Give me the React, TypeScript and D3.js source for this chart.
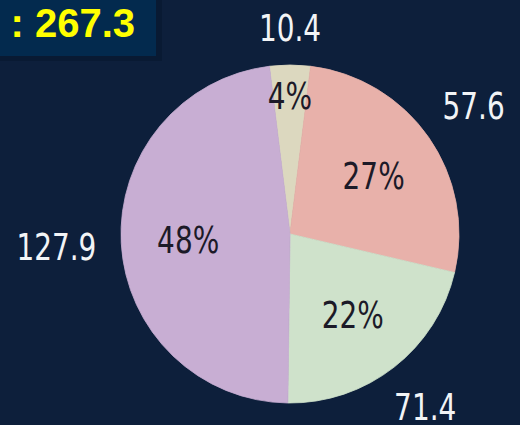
import React, { useEffect, useRef } from 'react';
import * as d3 from 'd3';

// slices in drawing order, clockwise from just left of 12 o'clock
const categories = ['A', 'B', 'C', 'D'];
const values = [10.4, 71.4, 57.6, 127.9];
const percentLabels = ['4%', '27%', '22%', '48%'];
const valueLabels = ['10.4', '57.6', '71.4', '127.9'];
const colors = ['#dcd8bf', '#e8b1aa', '#cfe2cb', '#c8aed3'];
const totalLabel = ': 267.3';

const W = 520;
const H = 425;

const App = () => {
  const svgRef = useRef<SVGSVGElement>(null);

  useEffect(() => {
    const svg = d3.select(svgRef.current);
    svg.selectAll('*').remove();

    svg.append('rect').attr('width', W).attr('height', H).attr('fill', '#0d1f3b');

    // total box, cut off at the left edge
    svg.append('rect').attr('x', -10).attr('y', -10).attr('width', 172).attr('height', 71).attr('fill', '#091a33');
    svg.append('rect').attr('x', -10).attr('y', -10).attr('width', 166).attr('height', 66).attr('fill', '#032a4e');
    svg.append('text')
      .attr('x', 135).attr('y', 37)
      .attr('text-anchor', 'end')
      .attr('font-family', '"Liberation Sans", Arial, sans-serif')
      .attr('font-weight', 'bold')
      .attr('font-size', 40)
      .attr('fill', '#ffff00')
      .text(totalLabel);

    const cx = 290, cy = 234, r = 169;
    const start = -7 * Math.PI / 180;
    const g = svg.append('g').attr('transform', `translate(${cx},${cy})`);

    const pie = d3.pie<number>().sort(null).startAngle(start).endAngle(start + 2 * Math.PI);
    const arcs = pie(values);
    const arc = d3.arc<d3.PieArcDatum<number>>().innerRadius(0).outerRadius(r);

    g.selectAll('path.slice').data(arcs).enter().append('path')
      .attr('class', 'slice')
      .attr('d', arc)
      .attr('fill', (d, i) => colors[i])
      .attr('stroke', (d, i) => colors[i])
      .attr('stroke-width', 0.8);

    const labelFont = '"DejaVu Sans Condensed", "DejaVu Sans", sans-serif';
    const sx = 0.84;
    const total = d3.sum(values);

    // percentages inside; small slices pushed outward
    g.selectAll('text.pct').data(arcs).enter().append('text')
      .attr('class', 'pct')
      .attr('transform', d => {
        const rr = d.value / total < 0.06 ? 138 : 102;
        const [x, y] = d3.arc<d3.PieArcDatum<number>>().innerRadius(rr).outerRadius(rr).centroid(d);
        return `translate(${x},${y}) scale(${sx},1)`;
      })
      .attr('text-anchor', 'middle')
      .attr('dy', '0.36em')
      .attr('font-family', labelFont)
      .attr('font-size', 37)
      .attr('fill', '#1c1a28')
      .text((d, i) => percentLabels[i]);

    // values outside, pushed further out where the text lies sideways
    g.selectAll('text.val').data(arcs).enter().append('text')
      .attr('class', 'val')
      .attr('text-anchor', 'middle')
      .attr('dy', '0.36em')
      .attr('font-family', labelFont)
      .attr('font-size', 37)
      .attr('fill', '#f2f4f6')
      .text((d, i) => valueLabels[i])
      .attr('transform', function (d) {
        const w = (this as SVGTextElement).getComputedTextLength() * sx;
        const a = (d.startAngle + d.endAngle) / 2;
        const dist = r + 37 + 0.7 * (w / 2) * Math.abs(Math.sin(a));
        return `translate(${dist * Math.sin(a)},${-dist * Math.cos(a)}) scale(${sx},1)`;
      });
  }, []);

  return (
    <div style={{ position: 'fixed', left: 0, top: 0, width: W, height: H }}>
      <svg ref={svgRef} width={W} height={H} style={{ display: 'block' }}></svg>
    </div>
  );
};

export default App;
